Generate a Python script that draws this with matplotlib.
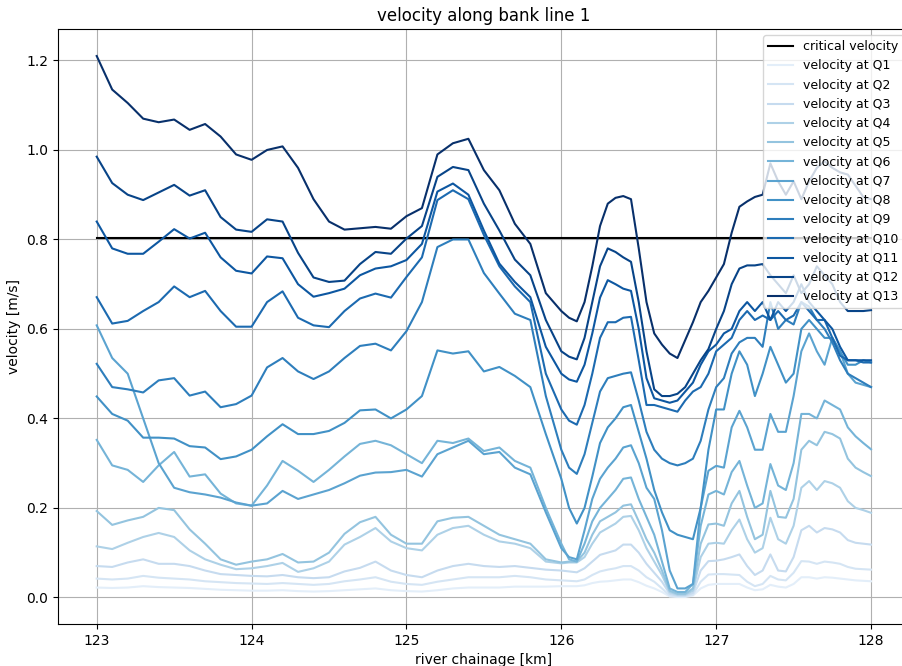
import numpy as np
import matplotlib
matplotlib.use('Agg')
import matplotlib.pyplot as plt

# chainage of the readings: every 100 m up to 126 km, every 50 m after that
km = np.round(np.concatenate([np.arange(123.0, 126.0001, 0.1),
                              np.arange(126.05, 128.0001, 0.05)]), 2)

v_crit = 0.803

v_q1 = [0.022, 0.021, 0.022, 0.025, 0.023, 0.022, 0.021, 0.019, 0.017, 0.016, 0.015, 0.015, 0.016, 0.014, 0.013, 0.014,
        0.016, 0.018, 0.02, 0.016, 0.014, 0.013, 0.016, 0.02, 0.022, 0.022, 0.022, 0.024, 0.024, 0.024, 0.025,
        0.025, 0.025, 0.027, 0.032, 0.035, 0.036, 0.038, 0.04, 0.04, 0.034, 0.026, 0.02, 0.012, 0.002, 0.001, 0.001,
        0.004, 0.02, 0.028, 0.03, 0.03, 0.03, 0.03, 0.022, 0.016, 0.018, 0.028, 0.024, 0.022, 0.03, 0.045, 0.045,
        0.042, 0.045, 0.044, 0.042, 0.04, 0.038, 0.037, 0.036]
v_q2 = [0.042, 0.04, 0.042, 0.048, 0.044, 0.042, 0.04, 0.036, 0.034, 0.032, 0.031, 0.03, 0.032, 0.03, 0.028, 0.03,
        0.036, 0.04, 0.045, 0.035, 0.03, 0.028, 0.035, 0.04, 0.045, 0.045, 0.045, 0.048, 0.045, 0.04, 0.038,
        0.037, 0.036, 0.04, 0.05, 0.058, 0.062, 0.065, 0.07, 0.07, 0.06, 0.045, 0.035, 0.02, 0.004, 0.002, 0.002,
        0.006, 0.035, 0.051, 0.052, 0.052, 0.051, 0.05, 0.035, 0.025, 0.03, 0.048, 0.04, 0.038, 0.055, 0.081, 0.08,
        0.075, 0.08, 0.078, 0.075, 0.068, 0.064, 0.063, 0.062]
v_q3 = [0.07, 0.068, 0.078, 0.085, 0.075, 0.075, 0.07, 0.06, 0.052, 0.05, 0.048, 0.047, 0.05, 0.045, 0.043, 0.045,
        0.058, 0.066, 0.08, 0.06, 0.05, 0.045, 0.06, 0.07, 0.075, 0.07, 0.068, 0.07, 0.066, 0.062, 0.06,
        0.058, 0.056, 0.065, 0.08, 0.095, 0.1, 0.105, 0.118, 0.118, 0.1, 0.075, 0.055, 0.035, 0.008, 0.004, 0.004,
        0.01, 0.06, 0.081, 0.082, 0.085, 0.09, 0.096, 0.07, 0.05, 0.06, 0.096, 0.06, 0.058, 0.09, 0.15, 0.16,
        0.145, 0.155, 0.152, 0.145, 0.128, 0.122, 0.12, 0.118]
v_q4 = [0.114, 0.108, 0.122, 0.135, 0.144, 0.135, 0.105, 0.085, 0.073, 0.063, 0.065, 0.07, 0.077, 0.057, 0.065, 0.08,
        0.118, 0.135, 0.155, 0.125, 0.11, 0.105, 0.14, 0.155, 0.16, 0.14, 0.125, 0.12, 0.11, 0.08, 0.076,
        0.078, 0.078, 0.09, 0.12, 0.145, 0.155, 0.165, 0.18, 0.182, 0.15, 0.11, 0.08, 0.05, 0.012, 0.006, 0.006,
        0.015, 0.09, 0.12, 0.122, 0.12, 0.15, 0.174, 0.13, 0.10, 0.11, 0.178, 0.13, 0.12, 0.16, 0.245, 0.26,
        0.24, 0.26, 0.255, 0.245, 0.215, 0.2, 0.195, 0.189]
v_q5 = [0.193, 0.162, 0.172, 0.18, 0.2, 0.195, 0.152, 0.12, 0.085, 0.073, 0.08, 0.085, 0.097, 0.078, 0.08, 0.10,
        0.142, 0.168, 0.18, 0.14, 0.12, 0.12, 0.17, 0.178, 0.18, 0.16, 0.14, 0.13, 0.12, 0.085, 0.078,
        0.08, 0.08, 0.1, 0.14, 0.17, 0.18, 0.19, 0.205, 0.208, 0.17, 0.13, 0.10, 0.06, 0.015, 0.008, 0.008,
        0.02, 0.12, 0.163, 0.165, 0.16, 0.21, 0.238, 0.18, 0.13, 0.14, 0.238, 0.18, 0.178, 0.22, 0.33, 0.35,
        0.34, 0.37, 0.365, 0.355, 0.31, 0.29, 0.28, 0.271]
v_q6 = [0.352, 0.295, 0.285, 0.258, 0.295, 0.325, 0.27, 0.275, 0.232, 0.21, 0.205, 0.25, 0.305, 0.283, 0.258, 0.285,
        0.315, 0.343, 0.35, 0.34, 0.32, 0.30, 0.35, 0.345, 0.355, 0.327, 0.335, 0.305, 0.29, 0.20, 0.12,
        0.085, 0.08, 0.12, 0.17, 0.2, 0.22, 0.24, 0.265, 0.268, 0.22, 0.18, 0.14, 0.08, 0.02, 0.012, 0.012,
        0.03, 0.16, 0.23, 0.238, 0.23, 0.28, 0.305, 0.25, 0.2, 0.21, 0.298, 0.25, 0.24, 0.30, 0.41, 0.41,
        0.40, 0.44, 0.43, 0.42, 0.38, 0.36, 0.345, 0.331]
v_q7 = [0.608, 0.535, 0.50, 0.40, 0.30, 0.245, 0.235, 0.23, 0.223, 0.212, 0.205, 0.21, 0.238, 0.22, 0.23, 0.24,
        0.255, 0.272, 0.279, 0.28, 0.285, 0.27, 0.32, 0.335, 0.35, 0.32, 0.325, 0.29, 0.275, 0.19, 0.11,
        0.09, 0.085, 0.15, 0.22, 0.265, 0.29, 0.31, 0.335, 0.34, 0.30, 0.245, 0.22, 0.15, 0.06, 0.02, 0.02,
        0.03, 0.2, 0.283, 0.294, 0.29, 0.38, 0.417, 0.38, 0.33, 0.33, 0.41, 0.37, 0.37, 0.45, 0.55, 0.59,
        0.55, 0.52, 0.58, 0.55, 0.50, 0.48, 0.475, 0.47]
v_q8 = [0.449, 0.41, 0.395, 0.357, 0.357, 0.355, 0.338, 0.335, 0.309, 0.315, 0.33, 0.36, 0.387, 0.365, 0.365, 0.372,
        0.39, 0.418, 0.42, 0.40, 0.42, 0.45, 0.552, 0.545, 0.55, 0.505, 0.515, 0.495, 0.47, 0.365, 0.265,
        0.2, 0.165, 0.2, 0.27, 0.345, 0.38, 0.40, 0.425, 0.43, 0.37, 0.31, 0.24, 0.19, 0.15, 0.14, 0.135,
        0.13, 0.2, 0.33, 0.42, 0.42, 0.50, 0.55, 0.52, 0.45, 0.50, 0.56, 0.52, 0.48, 0.50, 0.60, 0.62,
        0.60, 0.58, 0.58, 0.55, 0.52, 0.52, 0.53, 0.525]
v_q9 = [0.522, 0.47, 0.465, 0.458, 0.485, 0.49, 0.451, 0.46, 0.425, 0.432, 0.451, 0.514, 0.535, 0.505, 0.488, 0.505,
        0.535, 0.562, 0.567, 0.552, 0.595, 0.66, 0.783, 0.80, 0.80, 0.725, 0.679, 0.634, 0.62, 0.45, 0.33,
        0.29, 0.276, 0.32, 0.39, 0.46, 0.49, 0.495, 0.50, 0.503, 0.44, 0.37, 0.33, 0.31, 0.30, 0.295, 0.30,
        0.31, 0.35, 0.42, 0.47, 0.49, 0.545, 0.57, 0.58, 0.58, 0.56, 0.66, 0.60, 0.62, 0.61, 0.66, 0.65,
        0.62, 0.60, 0.57, 0.53, 0.50, 0.49, 0.48, 0.47]
v_q10 = [0.671, 0.612, 0.618, 0.64, 0.66, 0.695, 0.671, 0.685, 0.64, 0.605, 0.605, 0.66, 0.684, 0.625, 0.608, 0.604,
         0.64, 0.668, 0.679, 0.67, 0.716, 0.76, 0.888, 0.91, 0.89, 0.81, 0.74, 0.695, 0.66, 0.50, 0.42,
         0.395, 0.386, 0.43, 0.50, 0.58, 0.615, 0.615, 0.625, 0.627, 0.53, 0.43, 0.43, 0.425, 0.42, 0.415, 0.44,
         0.46, 0.47, 0.50, 0.55, 0.565, 0.58, 0.62, 0.64, 0.62, 0.63, 0.62, 0.64, 0.62, 0.63, 0.66, 0.64,
         0.62, 0.62, 0.58, 0.54, 0.53, 0.53, 0.525, 0.525]
v_q11 = [0.84, 0.78, 0.768, 0.768, 0.795, 0.823, 0.802, 0.815, 0.76, 0.73, 0.724, 0.762, 0.758, 0.70, 0.672, 0.68,
         0.69, 0.72, 0.735, 0.74, 0.754, 0.79, 0.907, 0.925, 0.90, 0.82, 0.746, 0.705, 0.671, 0.56, 0.50,
         0.487, 0.482, 0.52, 0.59, 0.67, 0.709, 0.70, 0.69, 0.685, 0.60, 0.49, 0.445, 0.44, 0.435, 0.44, 0.46,
         0.48, 0.52, 0.55, 0.565, 0.59, 0.60, 0.64, 0.66, 0.64, 0.66, 0.62, 0.66, 0.64, 0.66, 0.70, 0.66,
         0.64, 0.62, 0.60, 0.56, 0.53, 0.53, 0.53, 0.53]
v_q12 = [0.985, 0.926, 0.9, 0.888, 0.905, 0.922, 0.898, 0.91, 0.85, 0.822, 0.817, 0.845, 0.84, 0.77, 0.715, 0.705,
         0.708, 0.745, 0.772, 0.768, 0.802, 0.83, 0.94, 0.962, 0.955, 0.88, 0.82, 0.755, 0.72, 0.62, 0.55,
         0.538, 0.532, 0.58, 0.66, 0.74, 0.78, 0.772, 0.76, 0.75, 0.66, 0.55, 0.465, 0.45, 0.45, 0.455, 0.47,
         0.5, 0.53, 0.555, 0.6, 0.64, 0.70, 0.735, 0.742, 0.742, 0.745, 0.72, 0.70, 0.68, 0.72, 0.68, 0.70,
         0.74, 0.72, 0.70, 0.66, 0.64, 0.64, 0.64, 0.642]
v_q13 = [1.21, 1.135, 1.105, 1.07, 1.062, 1.068, 1.045, 1.058, 1.03, 0.99, 0.978, 1.0, 1.008, 0.96, 0.89, 0.84,
         0.822, 0.825, 0.828, 0.824, 0.852, 0.87, 0.99, 1.015, 1.025, 0.955, 0.91, 0.835, 0.79, 0.68, 0.64,
         0.625, 0.617, 0.66, 0.74, 0.83, 0.88, 0.893, 0.897, 0.89, 0.78, 0.66, 0.59, 0.565, 0.545, 0.535, 0.575,
         0.615, 0.66, 0.685, 0.715, 0.745, 0.815, 0.873, 0.885, 0.895, 0.90, 0.97, 0.93, 0.90, 0.93, 0.89, 0.93,
         0.96, 0.975, 0.96, 0.95, 0.945, 0.92, 0.895, 0.89]

velocities = [v_q1, v_q2, v_q3, v_q4, v_q5, v_q6, v_q7, v_q8, v_q9, v_q10, v_q11, v_q12, v_q13]
colors = plt.cm.Blues(np.linspace(0.1, 1.0, len(velocities)))

fig = plt.figure(figsize=(9.02, 6.66), dpi=100)
ax = fig.add_axes([0.0643, 0.0631, 0.9443, 0.8934])

ax.plot([km[0], km[-1]], [v_crit, v_crit], color='k', label='critical velocity')
for i, v in enumerate(velocities):
    ax.plot(km, v, color=colors[i], label='velocity at Q%d' % (i + 1))

ax.set_title('velocity along bank line 1')
ax.set_xlabel('river chainage [km]')
ax.set_ylabel('velocity [m/s]')
ax.grid(True)
ax.legend(loc='upper right', fontsize=9)

fig.savefig('out.png', dpi=100)
